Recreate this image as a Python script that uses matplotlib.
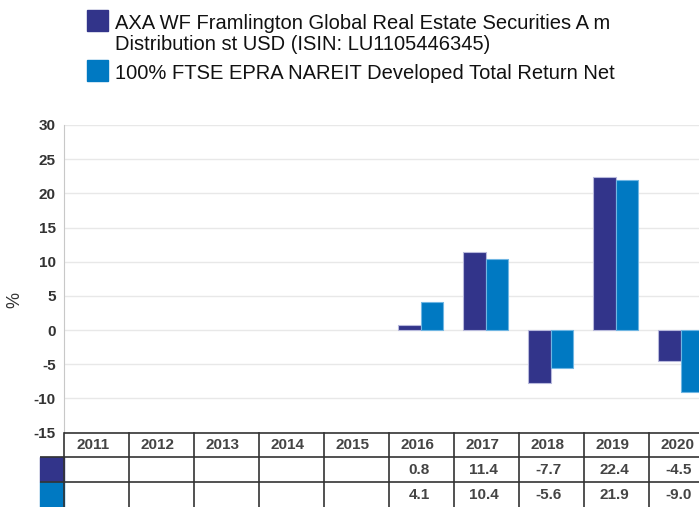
import numpy as np
import matplotlib.pyplot as plt
from matplotlib.patches import Rectangle

years = ['2011', '2012', '2013', '2014', '2015', '2016', '2017', '2018', '2019', '2020']
fund = [None, None, None, None, None, 0.8, 11.4, -7.7, 22.4, -4.5]
bench = [None, None, None, None, None, 4.1, 10.4, -5.6, 21.9, -9.0]
fund_name = ['AXA WF Framlington Global Real Estate Securities A m',
             'Distribution st USD (ISIN: LU1105446345)']
bench_name = '100% FTSE EPRA NAREIT Developed Total Return Net'
c_fund = '#32348a'
c_bench = '#0079c2'

W, H = 699, 507
fig = plt.figure(figsize=(W / 100, H / 100), dpi=100)

def box(l, t, r, b):
    return [l / W, 1 - b / H, (r - l) / W, (b - t) / H]

# the chart runs past the right edge of the image, as in the source
RIGHT = 64 + 65 * len(years)

# main chart
ax = fig.add_axes(box(64, 125, RIGHT, 432.5))
x = np.arange(len(years))
bw = 0.35
fv = [np.nan if v is None else v for v in fund]
bv = [np.nan if v is None else v for v in bench]
ax.bar(x - bw / 2 - 0.015, fv, bw, color=c_fund, edgecolor='#b8b9dc', linewidth=0.8, zorder=3)
ax.bar(x + bw / 2 - 0.015, bv, bw, color=c_bench, edgecolor='#6fb6e3', linewidth=0.8, zorder=3)
ax.set_xlim(-0.5, len(years) - 0.5)
ax.set_ylim(-15, 30)
ax.set_yticks(np.arange(-15, 31, 5))
ax.set_yticklabels([str(v) for v in range(-15, 31, 5)], fontweight='bold',
                   fontsize=11, color='#333333', family='Liberation Sans')
ax.tick_params(axis='y', length=0, pad=6)
ax.set_xticks([])
ax.grid(axis='y', color='#e8e8e8', linewidth=1, zorder=0)
for s in ['top', 'right', 'bottom']:
    ax.spines[s].set_visible(False)
ax.spines['left'].set_color('#c8c8c8')
fig.text(15 / W, 1 - 300 / H, '%', rotation=90, ha='center', va='center',
         fontsize=13, color='#333333', family='Liberation Sans')

# table below
tb = fig.add_axes(box(64, 432.5, RIGHT, 507))
tb.set_xlim(-0.5, len(years) - 0.5)
tb.set_ylim(3, 0)
tb.axis('off')
rows = [0, 0.98, 2.0, 3]
lc = '#333333'
sw = 24 / 65
for yy in rows[:3]:
    tb.plot([-0.5 if yy == 0 else -0.5 - sw, len(years) - 0.5], [yy, yy], color=lc, lw=1.2,
            clip_on=False, solid_capstyle='butt')
for i in range(len(years) + 1):
    tb.plot([i - 0.5, i - 0.5], [0, 3], color=lc, lw=1.2, clip_on=False)
tb.add_patch(Rectangle((-0.5 - sw, rows[1]), sw, rows[2] - rows[1], color=c_fund, clip_on=False))
tb.add_patch(Rectangle((-0.5 - sw, rows[2]), sw, 3 - rows[2], color=c_bench, clip_on=False))
for i, yr in enumerate(years):
    tb.text(i - 0.06, 0.5, yr, ha='center', va='center', fontsize=11, fontweight='bold',
            color='#444444', family='Liberation Sans')
    if fund[i] is not None:
        tb.text(i - 0.04, 1.5, '%.1f' % fund[i], ha='center', va='center', fontsize=11,
                fontweight='bold', color='#444444', family='Liberation Sans')
    if bench[i] is not None:
        tb.text(i - 0.04, 2.5, '%.1f' % bench[i], ha='center', va='center', fontsize=11,
                fontweight='bold', color='#444444', family='Liberation Sans')

# legend
fig.patches.append(Rectangle((87 / W, 1 - 31 / H), 21 / W, 21 / H, color=c_fund,
                             transform=fig.transFigure, figure=fig))
fig.patches.append(Rectangle((87 / W, 1 - 81 / H), 21 / W, 21 / H, color=c_bench,
                             transform=fig.transFigure, figure=fig))
fnt = ['Liberation Sans', 'DejaVu Sans']
for line, base in zip(fund_name, [29, 50]):
    fig.text(115 / W, 1 - base / H, line, ha='left', va='baseline', fontsize=14.5,
             color='#111111', family=fnt)
fig.text(115 / W, 1 - 79 / H, bench_name, ha='left', va='baseline', fontsize=14.5,
         color='#111111', family=fnt)

plt.savefig('out.png', dpi=100)
